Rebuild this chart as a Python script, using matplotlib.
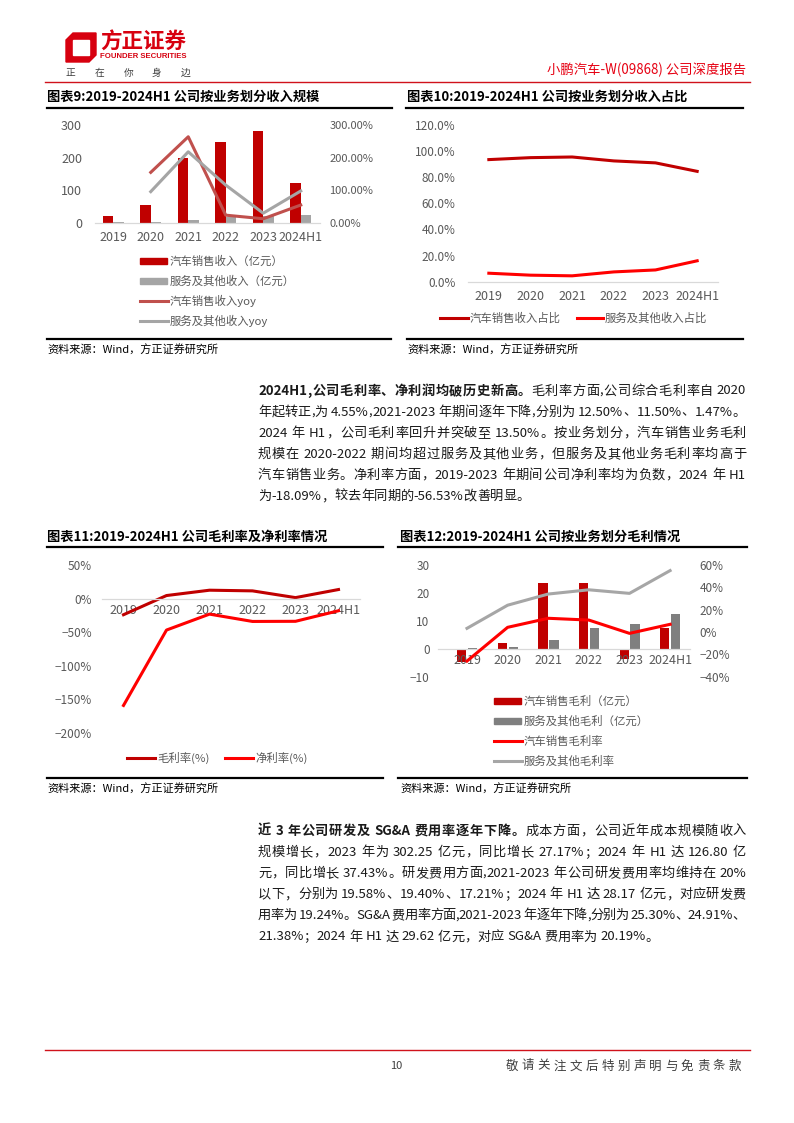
import re
import matplotlib
matplotlib.use('Agg')
import matplotlib.pyplot as plt
import numpy as np
from matplotlib.patches import Rectangle, Polygon
from matplotlib.lines import Line2D

plt.rcParams['font.family'] = ['Noto Sans CJK SC', 'DejaVu Sans']
plt.rcParams['axes.unicode_minus'] = True

W, H = 794, 1123

years = ['2019', '2020', '2021', '2022', '2023', '2024H1']

# 图表9 收入规模 (亿元) / yoy (%)
car_rev = [20.4, 55.5, 200.4, 249.0, 282.1, 123.0]
svc_rev = [2.5, 3.5, 9.1, 19.5, 20.5, 23.5]
car_rev_yoy = [np.nan, 155, 264, 24, 13, 55]
svc_rev_yoy = [np.nan, 96, 218, 116, 30, 98]

# 图表10 收入占比 (%)
car_share = [93.5, 95.0, 95.5, 92.5, 91.0, 84.5]
svc_share = [6.5, 5.0, 4.5, 7.5, 9.0, 16.0]

# 图表11 毛利率 / 净利率 (%)
gross_margin = [-24.0, 4.55, 12.50, 11.50, 1.47, 13.50]
net_margin = [-159.0, -46.8, -23.1, -34.0, -33.8, -18.09]

# 图表12 毛利 (亿元) / 毛利率 (%)
car_gp = [-4.8, 2.0, 23.4, 23.6, -3.6, 7.5]
svc_gp = [0.2, 0.8, 3.2, 7.5, 9.0, 12.5]
car_gm = [-26.0, 4.2, 12.3, 10.7, -1.2, 6.9]
svc_gm = [3.3, 24.0, 34.0, 37.8, 34.6, 55.0]

RED = '#c00000'
TICK = '#595959'

fig = plt.figure(figsize=(W / 100, H / 100), dpi=100)
renderer = fig.canvas.get_renderer()


def fy(y):
    return 1 - y / H


def px_axes(x0, y0, x1, y1):
    return fig.add_axes([x0 / W, 1 - y1 / H, (x1 - x0) / W, (y1 - y0) / H])


def hline(x0, x1, y, color='black', lw=1.6):
    fig.add_artist(Line2D([x0 / W, x1 / W], [fy(y), fy(y)], color=color, lw=lw))


def ftext(x, y, s, **kw):
    kw.setdefault('va', 'center')
    return fig.text(x / W, fy(y), s, **kw)


def style(ax, pad=6):
    for s in ['top', 'right', 'left']:
        ax.spines[s].set_visible(False)
    ax.spines['bottom'].set_color('#d9d9d9')
    ax.spines['bottom'].set_linewidth(0.9)
    ax.tick_params(length=0, labelsize=8, labelcolor=TICK, pad=pad)
    ax.tick_params(axis='x', labelsize=9)


def leg_bar(x, y, color, label):
    fig.add_artist(Rectangle((x / W, fy(y + 3)), 27 / W, 6 / H, color=color))
    ftext(x + 30, y, label, fontsize=8.2, color=TICK)


def leg_line(x, y, color, label, length=28):
    hline(x, x + length, y, color=color, lw=2.2)
    ftext(x + length + 2, y, label, fontsize=8.2, color=TICK)


def pct(v, fmt='{:.0f}%'):
    return fmt.format(v).replace('-', '\u2212')


# ---------- header ----------
fig.add_artist(Polygon([(66 / W, fy(40)), (73 / W, fy(33)), (96 / W, fy(33)), (96 / W, fy(55)),
                        (89 / W, fy(62)), (66 / W, fy(62))], closed=True, color='#d7000f'))
fig.add_artist(Rectangle((73 / W, fy(55)), 16 / W, 15 / H, color='white'))
ftext(100, 42, '方正证券', fontsize=15.5, fontweight='bold', color='#d7000f')
ftext(100, 57, 'FOUNDER SECURITIES', fontsize=5.6, fontweight='bold', color='#d7000f', family='Liberation Sans')
for i, ch in enumerate('正在你身边'):
    ftext(66 + i * 28.7, 73, ch, fontsize=7, color='#404040')
ftext(746, 70, '小鹏汽车-W(09868) 公司深度报告', fontsize=9.6, color='#e60012', ha='right')
hline(45, 750, 82, color='#d0121b', lw=1.0)

# ---------- 图表9 ----------
ftext(47, 97, '图表9:2019-2024H1 公司按业务划分收入规模', fontsize=9.5, fontweight='bold')
hline(47, 392, 107.5)
x = np.arange(len(years))
ax = px_axes(94.5, 125, 319.5, 223)
ax.bar(x - 0.14, car_rev, 0.28, color=RED)
ax.bar(x + 0.14, svc_rev, 0.28, color='#a5a5a5')
ax.set_xlim(-0.5, 5.5)
ax.set_ylim(0, 300)
ax.set_yticks([0, 100, 200, 300])
ax.set_xticks(x, years)
style(ax, pad=6)
ax.tick_params(axis='y', pad=9, labelsize=9)
ax2 = ax.twinx()
ax2.plot(x, car_rev_yoy, color='#c0504d', lw=2.2)
ax2.plot(x, svc_rev_yoy, color='#a5a5a5', lw=2.2)
ax2.set_ylim(0, 300)
ax2.set_yticks([0, 100, 200, 300], [pct(v, '{:.2f}%') for v in [0, 100, 200, 300]])
style(ax2)
ax2.spines['bottom'].set_visible(False)
ax2.tick_params(axis='y', pad=7)
leg_bar(140, 261, RED, '汽车销售收入（亿元）')
leg_bar(140, 281, '#a5a5a5', '服务及其他收入（亿元）')
leg_line(140, 301, '#c0504d', '汽车销售收入yoy')
leg_line(140, 321, '#a5a5a5', '服务及其他收入yoy')
hline(47, 391, 339)
ftext(47, 350, '资料来源：Wind，方正证券研究所', fontsize=8, style='italic')

# ---------- 图表10 ----------
ftext(407, 97, '图表10:2019-2024H1 公司按业务划分收入占比', fontsize=9.5, fontweight='bold')
hline(406, 743, 107.5)
ax = px_axes(468, 125, 718, 281.7)
ax.plot(x, car_share, color=RED, lw=2.2)
ax.plot(x, svc_share, color='#ff0000', lw=2.2)
ax.set_xlim(-0.5, 5.5)
ax.set_ylim(0, 120)
ax.set_yticks(range(0, 121, 20), [pct(v, '{:.1f}%') for v in range(0, 121, 20)])
ax.set_xticks(x, years)
style(ax, pad=6)
ax.tick_params(axis='y', pad=9, labelsize=8.5)
leg_line(440, 318, RED, '汽车销售收入占比')
leg_line(577, 318, '#ff0000', '服务及其他收入占比', length=26)
hline(407, 743, 339)
ftext(407, 350, '资料来源：Wind，方正证券研究所', fontsize=8, style='italic')

# ---------- 图表11 ----------
ftext(47, 537, '图表11:2019-2024H1 公司毛利率及净利率情况', fontsize=9.5, fontweight='bold')
hline(47, 383, 547)
ax = px_axes(102, 565, 360, 733)
ax.plot(x, gross_margin, color=RED, lw=2.2)
ax.plot(x, net_margin, color='#ff0000', lw=2.2)
ax.set_xlim(-0.5, 5.5)
ax.set_ylim(-200, 50)
ax.set_yticks(range(-200, 51, 50), [pct(v) for v in range(-200, 51, 50)])
ax.set_xticks(x, years)
style(ax, pad=4)
ax.spines['bottom'].set_position(('data', 0))
ax.tick_params(axis='y', pad=7, labelsize=8.5)
leg_line(127, 758, RED, '毛利率(%)')
leg_line(225, 758, '#ff0000', '净利率(%)')
hline(47, 383, 777.5)
ftext(47, 789, '资料来源：Wind，方正证券研究所', fontsize=8, style='italic')

# ---------- 图表12 ----------
ftext(400, 537, '图表12:2019-2024H1 公司按业务划分毛利情况', fontsize=9.5, fontweight='bold')
hline(398, 747, 547)
ax = px_axes(438, 565, 690, 676.7)
ax.bar(x - 0.13, car_gp, 0.23, color=RED)
ax.bar(x + 0.14, svc_gp, 0.23, color='#7f7f7f')
ax.set_xlim(-0.714, 5.49)
ax.set_ylim(-10, 30)
ax.set_yticks([-10, 0, 10, 20, 30], [pct(v, '{:.0f}') for v in [-10, 0, 10, 20, 30]])
ax.set_xticks(x, years)
style(ax, pad=4)
ax.spines['bottom'].set_position(('data', 0))
ax.tick_params(axis='y', pad=6, labelsize=8.5)
ax2 = ax.twinx()
ax2.plot(x, car_gm, color='#ff0000', lw=2.2)
ax2.plot(x, svc_gm, color='#a6a6a6', lw=2.2)
ax2.set_ylim(-40, 60)
ax2.set_yticks(range(-40, 61, 20), [pct(v) for v in range(-40, 61, 20)])
style(ax2)
ax2.spines['bottom'].set_visible(False)
ax2.tick_params(axis='y', pad=7, labelsize=8.5)
leg_bar(494, 701, RED, '汽车销售毛利（亿元）')
leg_bar(494, 721, '#7f7f7f', '服务及其他毛利（亿元）')
leg_line(494, 741, '#ff0000', '汽车销售毛利率')
leg_line(494, 761, '#a6a6a6', '服务及其他毛利率')
hline(398, 747, 777.5)
ftext(400, 789, '资料来源：Wind，方正证券研究所', fontsize=8, style='italic')


# ---------- body text ----------
def body_line(y, segs, justify=True, x0=258, x1=746, size=9.5):
    items = []
    for s, wt in segs:
        for m in re.finditer(r'[A-Za-z0-9.%&\-]+| |.', s):
            t = m.group()
            if t == ' ':
                items.append((None, 3.0))
                continue
            a = ftext(0, y, t, fontsize=size, fontweight=wt, color='#1a1a1a')
            items.append((a, a.get_window_extent(renderer).width))
    total = sum(w for _, w in items)
    gap = (x1 - x0 - total) / (len(items) - 1) if justify else 0
    xx = x0
    for a, w in items:
        if a is not None:
            a.set_x(xx / W)
        xx += w + gap


para1 = [
    [('2024H1,公司毛利率、净利润均破历史新高。', 'bold'), ('毛利率方面,公司综合毛利率自 2020', 'normal')],
    [('年起转正,为 4.55%,2021-2023 年期间逐年下降,分别为 12.50%、11.50%、1.47%。', 'normal')],
    [('2024 年 H1，公司毛利率回升并突破至 13.50%。按业务划分，汽车销售业务毛利', 'normal')],
    [('规模在 2020-2022 期间均超过服务及其他业务，但服务及其他业务毛利率均高于', 'normal')],
    [('汽车销售业务。净利率方面，2019-2023 年期间公司净利率均为负数，2024 年 H1', 'normal')],
    [('为-18.09%，较去年同期的-56.53%改善明显。', 'normal')],
]
para2 = [
    [('近 3 年公司研发及 SG&A 费用率逐年下降。', 'bold'), ('成本方面，公司近年成本规模随收入', 'normal')],
    [('规模增长，2023 年为 302.25 亿元，同比增长 27.17%；2024 年 H1 达 126.80 亿', 'normal')],
    [('元，同比增长 37.43%。研发费用方面,2021-2023 年公司研发费用率均维持在 20%', 'normal')],
    [('以下，分别为 19.58%、19.40%、17.21%；2024 年 H1 达 28.17 亿元，对应研发费', 'normal')],
    [('用率为 19.24%。SG&A 费用率方面,2021-2023 年逐年下降,分别为 25.30%、24.91%、', 'normal')],
    [('21.38%；2024 年 H1 达 29.62 亿元，对应 SG&A 费用率为 20.19%。', 'normal')],
]
for i, segs in enumerate(para1):
    body_line(391 + i * 21.1, segs, justify=i < len(para1) - 1)
for i, segs in enumerate(para2):
    body_line(831 + i * 21.2, segs, justify=i < len(para2) - 1)

# ---------- footer ----------
hline(45, 750, 1050, color='#d0121b', lw=1.0)
ftext(396, 1066, '10', fontsize=8, color='#404040', ha='center')
for i, ch in enumerate('敬请关注文后特别声明与免责条款'):
    ftext(506 + i * 15.9, 1066, ch, fontsize=9, color='#404040')

fig.savefig('out.png', dpi=100)
